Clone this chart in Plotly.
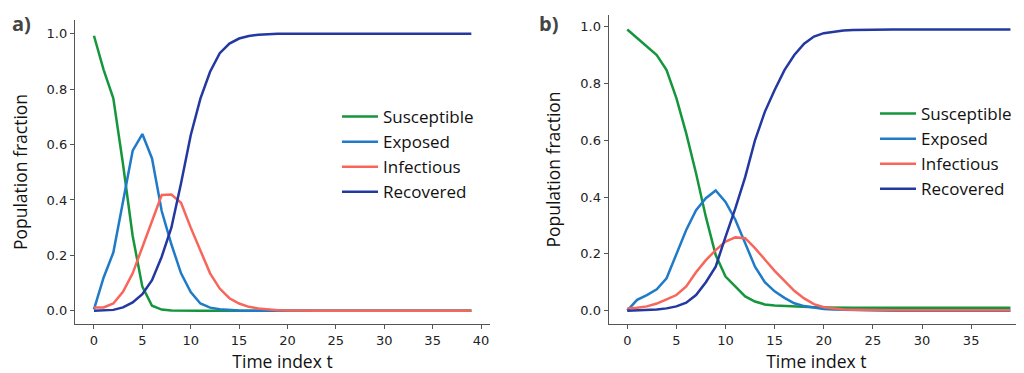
import plotly.graph_objects as go

t = list(range(40))

# Panel a)
S_a = [0.993, 0.87, 0.767, 0.53, 0.27, 0.087, 0.018, 0.004, 0.001] + [0.0] * 31
E_a = [0.005, 0.12, 0.21, 0.39, 0.578, 0.638, 0.55, 0.36, 0.24, 0.135, 0.067, 0.026, 0.011,
       0.005, 0.002, 0.001] + [0.0] * 24
I_a = [0.012, 0.012, 0.026, 0.068, 0.135, 0.23, 0.327, 0.418, 0.42, 0.39, 0.30, 0.22, 0.135,
       0.08, 0.045, 0.026, 0.014, 0.008, 0.004, 0.002, 0.001] + [0.0] * 19
R_a = [0.0, 0.001, 0.003, 0.012, 0.03, 0.06, 0.11, 0.195, 0.30, 0.46, 0.634, 0.766, 0.863,
       0.93, 0.965, 0.983, 0.992, 0.997, 0.999] + [1.0] * 21

# Panel b)
S_b = [0.99, 0.96, 0.93, 0.90, 0.847, 0.748, 0.624, 0.484, 0.33, 0.196, 0.12, 0.085, 0.05,
       0.032, 0.022, 0.018, 0.016, 0.014, 0.013, 0.012, 0.011] + [0.01] * 19
E_b = [0.0, 0.038, 0.055, 0.075, 0.114, 0.2, 0.284, 0.354, 0.396, 0.423, 0.383, 0.32, 0.235,
       0.155, 0.1, 0.068, 0.045, 0.026, 0.016, 0.01, 0.006, 0.004, 0.003, 0.002, 0.001] + [0.0] * 15
I_b = [0.008, 0.01, 0.015, 0.025, 0.04, 0.055, 0.085, 0.135, 0.178, 0.213, 0.243, 0.258, 0.255,
       0.22, 0.18, 0.14, 0.105, 0.07, 0.043, 0.023, 0.012, 0.007, 0.004, 0.003, 0.002] + [0.001] * 15
R_b = [0.0, 0.001, 0.002, 0.004, 0.008, 0.015, 0.028, 0.055, 0.1, 0.155, 0.26, 0.36, 0.47,
       0.6, 0.7, 0.777, 0.847, 0.9, 0.94, 0.965, 0.977, 0.982, 0.986, 0.988, 0.989] + [0.99] * 15

names = ["Susceptible", "Exposed", "Infectious", "Recovered"]
colors = ["#15963c", "#1f7bc8", "#f8655a", "#2338a0"]
x_ticks = [0, 5, 10, 15, 20, 25, 30, 35, 40]
y_ticks = [0.0, 0.2, 0.4, 0.6, 0.8, 1.0]
y_tick_text = ["0.0", "0.2", "0.4", "0.6", "0.8", "1.0"]

# The page body has an 8px margin, so the figure is laid out 8px smaller/shifted.
OFF = 8
W, H = 1024 - OFF, 373 - OFF


def px(x):
    return (x - OFF) / W


def py(y):
    return 1 - (y - OFF) / H


fig = go.Figure()

panels = [
    ([S_a, E_a, I_a, R_a], "x", "y", "legend"),
    ([S_b, E_b, I_b, R_b], "x2", "y2", "legend2"),
]
for series, xa, ya, leg in panels:
    for vals, name, col in zip(series, names, colors):
        fig.add_trace(go.Scatter(
            x=t, y=vals, mode="lines", name=name,
            line=dict(color=col, width=2.5),
            xaxis=xa, yaxis=ya, legend=leg, legendgroup=leg + name,
        ))

tick_font = dict(family="DejaVu Sans", size=13, color="#222")
title_font = dict(family="Open Sans", size=17.5, color="#111")
legend_font = dict(family="Open Sans", size=17, color="#111")
axis_common = dict(
    showgrid=False, zeroline=False, showline=True, linecolor="#555", linewidth=1.3,
    ticks="outside", ticklen=4, tickwidth=1.2, tickcolor="#555", tickfont=tick_font,
)

fig.update_layout(
    width=W, height=H,
    margin=dict(l=0, r=0, t=0, b=0),
    paper_bgcolor="white", plot_bgcolor="white",
    xaxis=dict(domain=[px(75), px(490)], range=[-1.96, 40.93], tickvals=x_ticks,
               title=dict(text="Time index t", font=title_font, standoff=9),
               anchor="y", **axis_common),
    yaxis=dict(domain=[py(324), py(20)], range=[-0.048, 1.05], tickvals=y_ticks,
               ticktext=y_tick_text,
               title=dict(text="Population fraction", font=title_font, standoff=15),
               anchor="x", **axis_common),
    xaxis2=dict(domain=[px(608.7), 1.0], range=[-1.89, 40.38], tickvals=x_ticks,
                title=dict(text="Time index t", font=title_font, standoff=9),
                anchor="y2", **axis_common),
    yaxis2=dict(domain=[py(324), py(15)], range=[-0.047, 1.041], tickvals=y_ticks,
                ticktext=y_tick_text,
                title=dict(text="Population fraction", font=title_font, standoff=15),
                anchor="x2", **axis_common),
    legend=dict(x=px(337), y=py(99), xanchor="left", yanchor="top",
                bgcolor="rgba(0,0,0,0)", font=legend_font, itemwidth=36,
                traceorder="grouped", tracegroupgap=0),
    legend2=dict(x=px(875), y=py(96), xanchor="left", yanchor="top",
                 bgcolor="rgba(0,0,0,0)", font=legend_font, itemwidth=36,
                 traceorder="grouped", tracegroupgap=0),
    annotations=[
        dict(text="<b>a)</b>", x=px(10), y=py(8), xref="paper", yref="paper",
             xanchor="left", yanchor="top", showarrow=False,
             font=dict(family="Open Sans", size=20, color="#444")),
        dict(text="<b>b)</b>", x=px(537), y=py(8), xref="paper", yref="paper",
             xanchor="left", yanchor="top", showarrow=False,
             font=dict(family="Open Sans", size=20, color="#444")),
    ],
)

fig.write_html("out.html")
